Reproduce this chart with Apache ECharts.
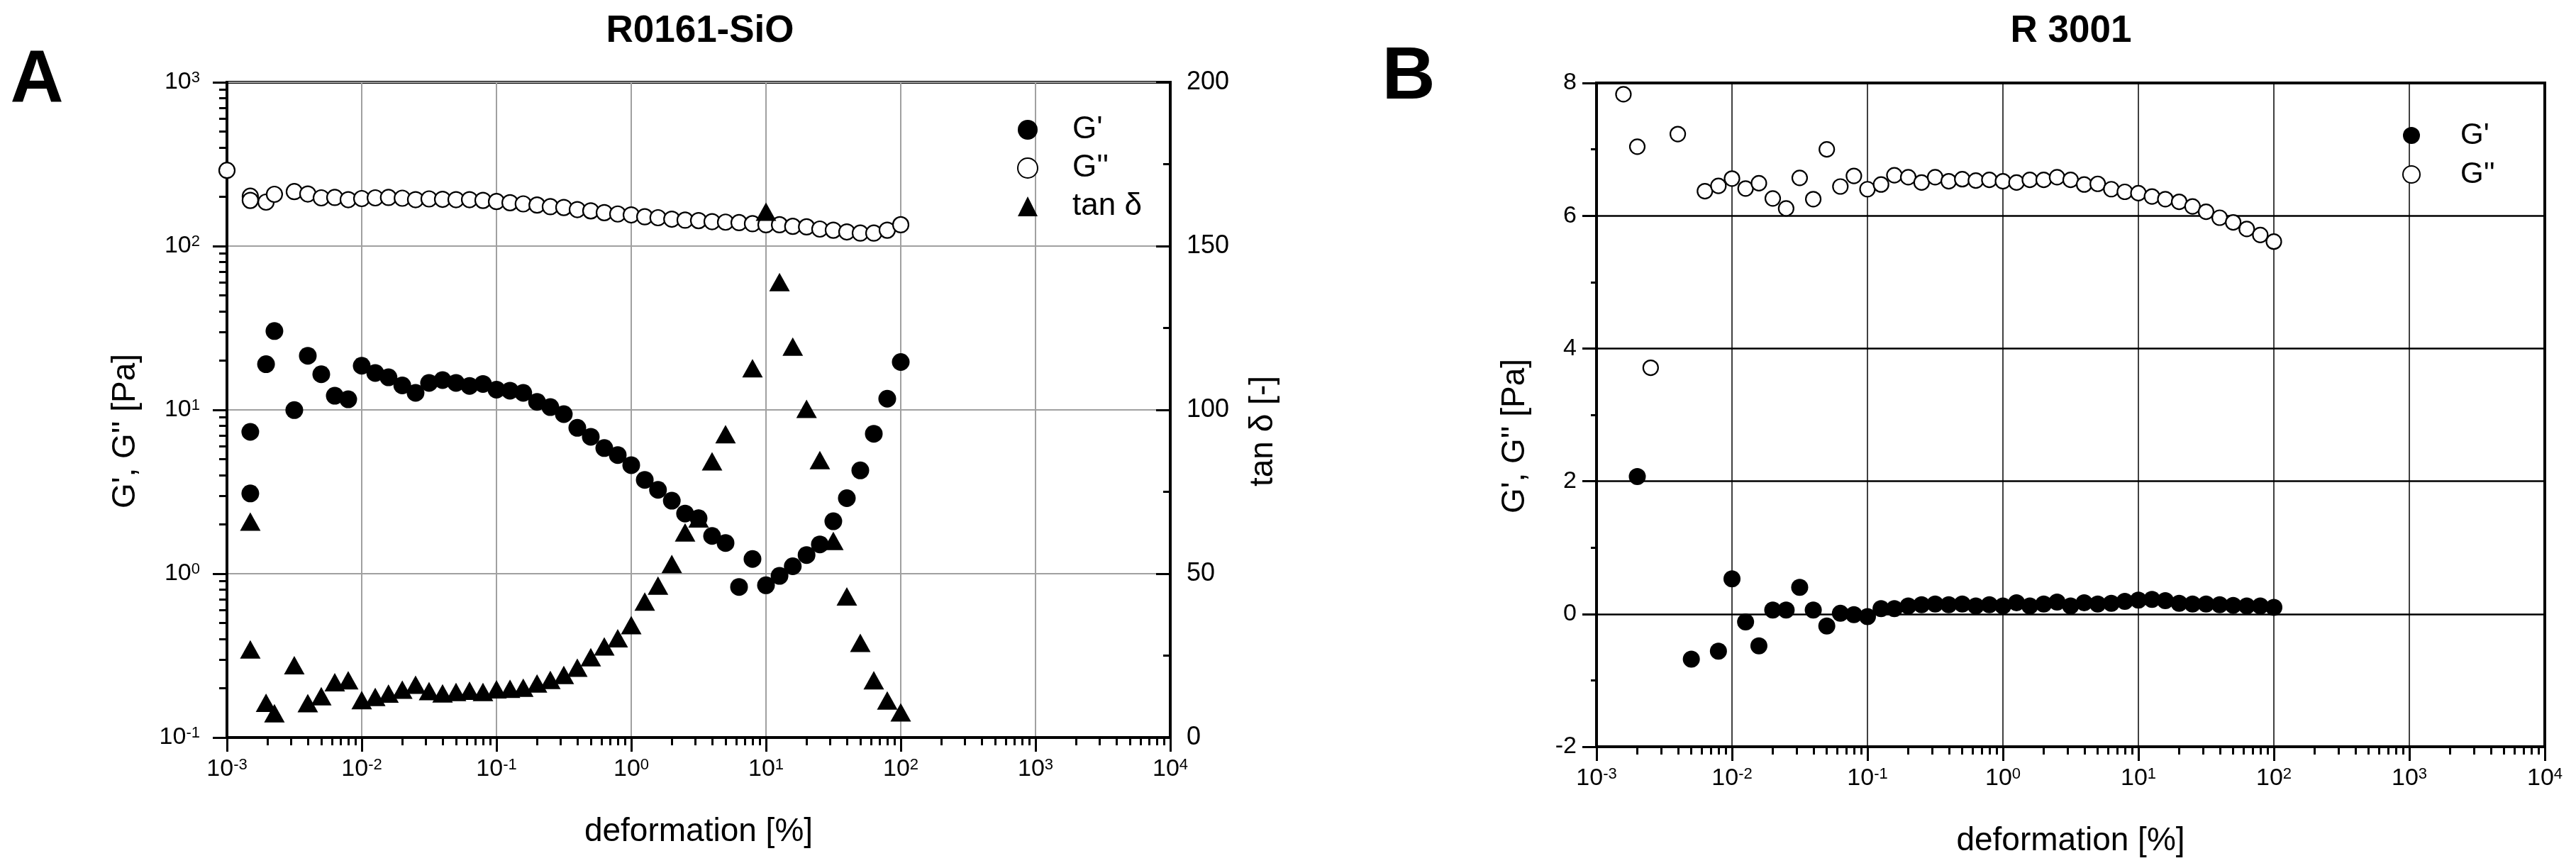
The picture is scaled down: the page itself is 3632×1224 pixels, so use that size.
<!DOCTYPE html>
<html>
<head>
<meta charset="utf-8">
<script src="https://cdn.jsdelivr.net/npm/echarts@6/dist/echarts.min.js"></script>
<style>
  html, body { margin: 0; padding: 0; background: #fff; }
  #chart { width: 3632px; height: 1224px; }
</style>
</head>
<body>
<div id="chart"></div>
<script>
// ---- A : R0161-SiO ----
var xA = [0.001, 0.00149, 0.00149, 0.00195, 0.00225, 0.00316, 0.00398, 0.00501, 0.00631, 0.00794,
  0.01, 0.0126, 0.0158, 0.02, 0.0251, 0.0316, 0.0398, 0.0501, 0.0631, 0.0794,
  0.1, 0.126, 0.158, 0.2, 0.251, 0.316, 0.398, 0.501, 0.631, 0.794,
  1, 1.26, 1.58, 2, 2.51, 3.16, 3.98, 5.01, 6.31, 7.94,
  10, 12.6, 15.8, 20, 25.1, 31.6, 39.8, 50.1, 63.1, 79.4, 100];
var gLossA = [290, 201.5, 190, 185.5, 207, 215, 208, 197, 198, 192,
  195, 197, 198, 196, 192, 194, 193, 192, 192, 190,
  187, 184, 181, 178, 174, 172, 167, 164, 160, 157,
  155, 151, 149, 146, 144, 143, 141, 140, 139, 137,
  135, 135, 132, 131, 127, 125, 122, 120, 120, 125, 135];
var gStoreA = [null, 7.34, 3.09, 19.0, 30.3, 9.97, 21.4, 16.5, 12.2, 11.6,
  18.6, 16.8, 15.8, 14.1, 12.7, 14.6, 15.2, 14.6, 14.0, 14.4,
  13.3, 13.1, 12.7, 11.2, 10.4, 9.42, 7.77, 6.85, 5.85, 5.30,
  4.60, 3.74, 3.25, 2.79, 2.33, 2.18, 1.70, 1.54, 0.83, 1.23,
  0.85, 0.97, 1.11, 1.30, 1.51, 2.09, 2.89, 4.27, 7.15, 11.7, 19.6];
var tanA = [null, 65.9, 26.9, 10.6, 7.4, 22.1, 10.5, 12.6, 16.9, 17.5,
  11.4, 12.4, 13.4, 14.6, 16.1, 14.2, 13.5, 13.9, 14.3, 13.9,
  14.7, 14.9, 15.2, 16.5, 17.6, 19.1, 21.3, 24.5, 27.8, 30.3,
  34.3, 41.5, 46.4, 53.0, 62.6, 66.9, 84.3, 92.6, null, 112.7,
  160.5, 139.0, 119.3, 100.3, 84.7, 60.0, 43.1, 28.9, 17.5, 11.3, 7.7];

// ---- B : R 3001 ----
var xB = [0.00158, 0.002, 0.00251, 0.00316, 0.00398, 0.00501, 0.00631, 0.00794,
  0.01, 0.0126, 0.0158, 0.02, 0.0251, 0.0316, 0.0398, 0.0501, 0.0631, 0.0794,
  0.1, 0.126, 0.158, 0.2, 0.251, 0.316, 0.398, 0.501, 0.631, 0.794,
  1, 1.26, 1.58, 2, 2.51, 3.16, 3.98, 5.01, 6.31, 7.94,
  10, 12.6, 15.8, 20, 25.1, 31.6, 39.8, 50.1, 63.1, 79.4, 100];
var gLossB = [7.83, 7.04, 3.71, null, 7.23, null, 6.37, 6.45,
  6.56, 6.41, 6.49, 6.26, 6.11, 6.57, 6.25, 7.00, 6.44, 6.60,
  6.40, 6.47, 6.61, 6.58, 6.50, 6.58, 6.52, 6.55, 6.53, 6.54,
  6.52, 6.50, 6.54, 6.54, 6.58, 6.54, 6.47, 6.48, 6.40, 6.36,
  6.34, 6.29, 6.25, 6.21, 6.14, 6.06, 5.97, 5.90, 5.80, 5.71, 5.61];
var gStoreB = [null, 2.07, null, -2.1, null, -0.68, null, -0.56,
  0.53, -0.12, -0.48, 0.06, 0.06, 0.40, 0.06, -0.18, 0.01, -0.01,
  -0.04, 0.08, 0.08, 0.12, 0.14, 0.15, 0.14, 0.15, 0.12, 0.14,
  0.12, 0.17, 0.12, 0.15, 0.18, 0.12, 0.17, 0.15, 0.16, 0.19,
  0.21, 0.22, 0.20, 0.16, 0.15, 0.15, 0.14, 0.13, 0.12, 0.12, 0.10];

var font = 'Liberation Sans, Arial, Helvetica, sans-serif';

function pairs(xs, ys) {
  var out = [];
  for (var i = 0; i < xs.length; i++) {
    if (ys[i] != null) out.push([xs[i], ys[i]]);
  }
  return out;
}

// minor tick positions (2..9 of each decade) in log10 units
function minorLog(lo, hi) {
  var out = [];
  for (var d = lo; d < hi; d++) {
    for (var m = 2; m <= 9; m++) out.push(d + Math.log10(m));
  }
  return out;
}

function powLabel(v) {
  var e = Math.round(Math.log10(v));
  return '{b|10}{s|' + e + '}';
}
var powRich = {
  b: { fontSize: 34, fontFamily: font, color: '#000' },
  s: { fontSize: 22, fontFamily: font, color: '#000', verticalAlign: 'top' }
};

var black = '#000';
var nameStyle = { fontSize: 46, fontFamily: font, color: black };
// rotated names sit a bit below the middle of the axis
var nameStyleRot = { fontSize: 46, fontFamily: font, color: black, padding: [0, 60, 0, 0] };

// extra axis on log10 scale, only used to draw the small ticks
function minorAxis(grid, lo, hi, pos) {
  return {
    type: 'value', gridIndex: grid, min: lo, max: hi, position: pos,
    axisLine: { show: false, onZero: false },
    axisLabel: { show: false },
    splitLine: { show: false },
    axisTick: { show: true, length: 11, customValues: minorLog(lo, hi),
      lineStyle: { color: black, width: 3 } }
  };
}

var chart = echarts.init(document.getElementById('chart'));
var option = {
  animation: false,
  backgroundColor: '#fff',
  graphic: [
    { type: 'text', x: 52, y: 114, style: { text: 'A', font: 'bold 104px ' + font, fill: black, textAlign: 'center', textVerticalAlign: 'middle' } },
    { type: 'text', x: 1986, y: 110, style: { text: 'B', font: 'bold 104px ' + font, fill: black, textAlign: 'center', textVerticalAlign: 'middle' } },
    { type: 'text', x: 987, y: 44, style: { text: 'R0161-SiO', font: 'bold 53px ' + font, fill: black, textAlign: 'center', textVerticalAlign: 'middle' } },
    { type: 'text', x: 2920, y: 44, style: { text: 'R 3001', font: 'bold 53px ' + font, fill: black, textAlign: 'center', textVerticalAlign: 'middle' } }
  ],
  legend: [
    {
      orient: 'vertical', left: 1429, top: 156,
      itemWidth: 28, itemHeight: 28, itemGap: 10,
      data: ["G'", "G''", 'tan δ'],
      textStyle: { fontSize: 44, lineHeight: 44, fontFamily: font, color: black, padding: [0, 0, 0, 44] }
    },
    {
      orient: 'vertical', left: 3382, top: 164,
      itemWidth: 24, itemHeight: 24, itemGap: 11,
      data: ["G'", "G''"],
      textStyle: { fontSize: 42, lineHeight: 44, fontFamily: font, color: black, padding: [0, 0, 0, 52] }
    }
  ],
  grid: [
    { left: 320, top: 116, width: 1330, height: 924, show: true, borderColor: black, borderWidth: 4, backgroundColor: 'transparent' },
    { left: 2251, top: 117, width: 1337, height: 936, show: true, borderColor: black, borderWidth: 4, backgroundColor: 'transparent' }
  ],
  xAxis: [
    {
      type: 'log', gridIndex: 0, min: 0.001, max: 10000, logBase: 10, splitNumber: 7,
      axisLine: { show: true, onZero: false, lineStyle: { color: black, width: 4 } },
      axisTick: { show: true, length: 20, lineStyle: { color: black, width: 3 } },
      axisLabel: { formatter: powLabel, rich: powRich, margin: 28 },
      splitLine: { show: true, lineStyle: { color: '#a0a0a0', width: 2 } },
      name: 'deformation [%]', nameLocation: 'middle', nameGap: 110, nameTextStyle: nameStyle
    },
    minorAxis(0, -3, 4, 'bottom'),
    {
      type: 'log', gridIndex: 1, min: 0.001, max: 10000, logBase: 10, splitNumber: 7,
      axisLine: { show: true, onZero: false, lineStyle: { color: black, width: 4 } },
      axisTick: { show: true, length: 20, lineStyle: { color: black, width: 3 } },
      axisLabel: { formatter: powLabel, rich: powRich, margin: 28 },
      splitLine: { show: true, lineStyle: { color: black, width: 1.5 } },
      name: 'deformation [%]', nameLocation: 'middle', nameGap: 110, nameTextStyle: nameStyle
    },
    minorAxis(1, -3, 4, 'bottom')
  ],
  yAxis: [
    {
      type: 'log', gridIndex: 0, min: 0.1, max: 1000, logBase: 10, splitNumber: 4, position: 'left',
      axisLine: { show: true, onZero: false, lineStyle: { color: black, width: 4 } },
      axisTick: { show: true, length: 20, lineStyle: { color: black, width: 3 } },
      axisLabel: { formatter: powLabel, rich: powRich, margin: 38 },
      splitLine: { show: true, lineStyle: { color: '#a0a0a0', width: 2 } },
      name: "G', G'' [Pa]", nameLocation: 'middle', nameGap: 120, nameRotate: 90, nameTextStyle: nameStyleRot
    },
    minorAxis(0, -1, 3, 'left'),
    {
      type: 'value', gridIndex: 0, min: 0, max: 200, interval: 50, position: 'right',
      axisLine: { show: true, onZero: false, lineStyle: { color: black, width: 4 } },
      axisTick: { show: true, inside: true, length: 20, lineStyle: { color: black, width: 3 } },
      minorTick: { show: true, splitNumber: 2, length: 10, lineStyle: { color: black, width: 3 } },
      axisLabel: { fontSize: 36, fontFamily: font, color: black, margin: 23 },
      splitLine: { show: false },
      name: 'tan δ [-]', nameLocation: 'middle', nameGap: 108, nameRotate: 90, nameTextStyle: nameStyleRot
    },
    {
      type: 'value', gridIndex: 1, min: -2, max: 8, interval: 2, position: 'left',
      axisLine: { show: true, onZero: false, lineStyle: { color: black, width: 4 } },
      axisTick: { show: true, length: 20, lineStyle: { color: black, width: 3 } },
      minorTick: { show: true, splitNumber: 2, length: 8, lineStyle: { color: black, width: 3 } },
      axisLabel: { fontSize: 34, fontFamily: font, color: black, margin: 28 },
      splitLine: { show: true, lineStyle: { color: black, width: 2.5 } },
      name: "G', G'' [Pa]", nameLocation: 'middle', nameGap: 92, nameRotate: 90, nameTextStyle: nameStyleRot
    }
  ],
  series: [
    {
      name: "G''", type: 'scatter', xAxisIndex: 0, yAxisIndex: 0,
      symbol: 'circle', symbolSize: 22,
      itemStyle: { color: '#fff', borderColor: black, borderWidth: 2.2, opacity: 1 },
      data: pairs(xA, gLossA)
    },
    {
      name: "G'", type: 'scatter', xAxisIndex: 0, yAxisIndex: 0,
      symbol: 'circle', symbolSize: 25,
      itemStyle: { color: black, opacity: 1 },
      data: pairs(xA, gStoreA)
    },
    {
      name: 'tan δ', type: 'scatter', xAxisIndex: 0, yAxisIndex: 2,
      symbol: 'triangle', symbolSize: [29, 26],
      itemStyle: { color: black, opacity: 1 },
      data: pairs(xA, tanA)
    },
    {
      name: "G''", type: 'scatter', xAxisIndex: 2, yAxisIndex: 3,
      symbol: 'circle', symbolSize: 21,
      itemStyle: { color: '#fff', borderColor: black, borderWidth: 2.2, opacity: 1 },
      data: pairs(xB, gLossB)
    },
    {
      name: "G'", type: 'scatter', xAxisIndex: 2, yAxisIndex: 3,
      symbol: 'circle', symbolSize: 24,
      itemStyle: { color: black, opacity: 1 },
      data: pairs(xB, gStoreB)
    }
  ]
};
chart.setOption(option);
</script>
</body>
</html>
